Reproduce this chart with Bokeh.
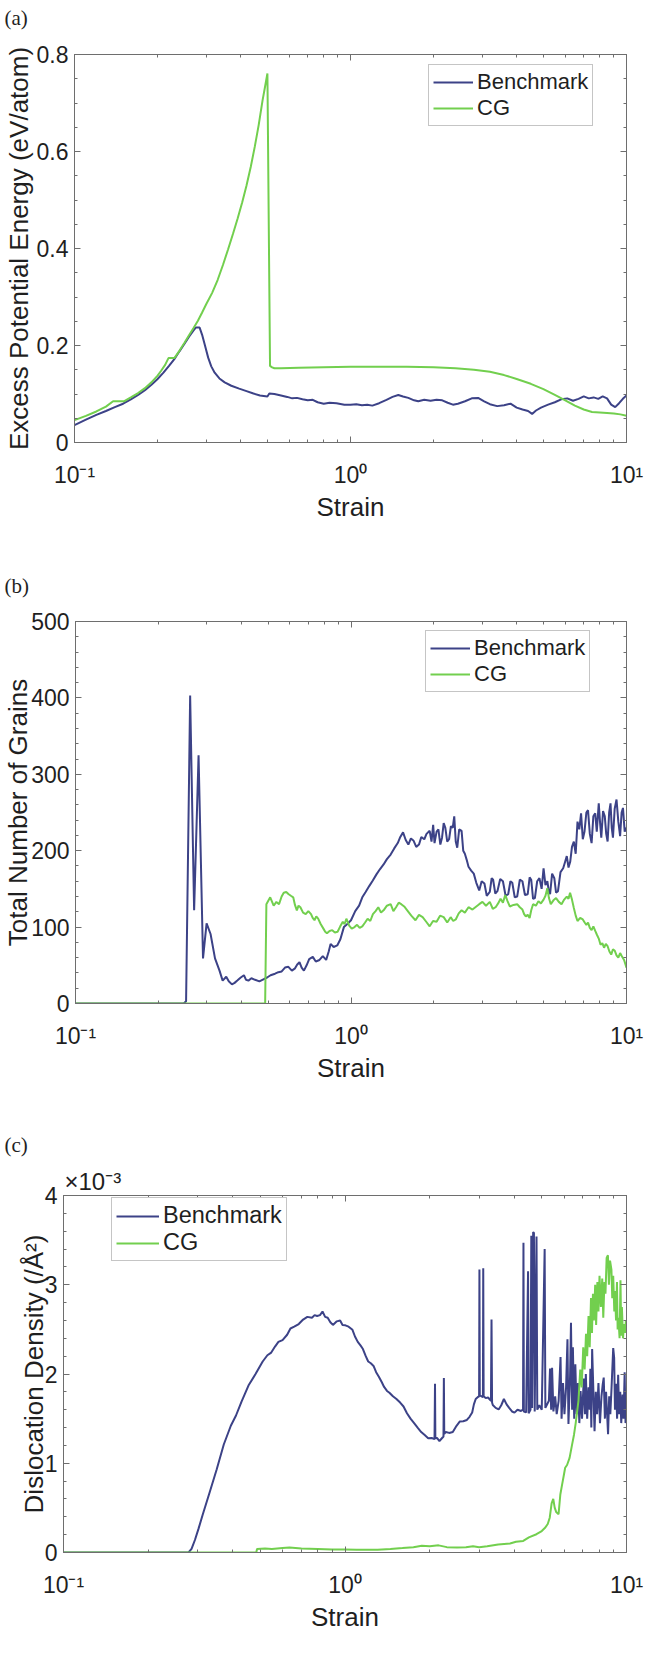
from bokeh.plotting import figure
from bokeh.models import (Range1d, FixedTicker, LogAxis, LinearAxis, Legend, LegendItem,
                          Label, Title, CustomJSTickFormatter)
from bokeh.embed import file_html
from bokeh.resources import INLINE

# ---------------------------------------------------------------- data
# (a) excess potential energy, eV/atom
a_bench_strain = [0.100, 0.110, 0.120, 0.130, 0.140, 0.150, 0.160, 0.170, 0.180, 0.190, 0.200,
                  0.210, 0.220, 0.230, 0.240, 0.250, 0.260, 0.270, 0.275, 0.284, 0.290, 0.297,
                  0.305, 0.313, 0.322, 0.335, 0.350, 0.370, 0.395, 0.420, 0.445, 0.470, 0.500,
                  0.508, 0.530, 0.560, 0.590, 0.615, 0.640, 0.670, 0.700, 0.730, 0.760, 0.800,
                  0.840, 0.890, 0.950, 1.00, 1.05, 1.10, 1.15, 1.20, 1.27, 1.35, 1.42, 1.49,
                  1.55, 1.62, 1.70, 1.76, 1.85, 1.95, 2.05, 2.15, 2.25, 2.35, 2.45, 2.60, 2.75,
                  2.90, 3.05, 3.20, 3.40, 3.60, 3.80, 4.00, 4.20, 4.40, 4.55, 4.70, 4.90, 5.20,
                  5.50, 5.80, 6.10, 6.40, 6.70, 7.00, 7.30, 7.60, 7.90, 8.20, 8.50, 8.80, 9.10,
                  9.40, 9.70, 10.0]
a_bench_energy = [0.036, 0.047, 0.057, 0.065, 0.073, 0.080, 0.089, 0.098, 0.108, 0.119, 0.131,
                  0.144, 0.158, 0.172, 0.188, 0.203, 0.218, 0.231, 0.237, 0.237, 0.222, 0.200,
                  0.175, 0.157, 0.144, 0.132, 0.124, 0.117, 0.111, 0.106, 0.101, 0.097, 0.095,
                  0.101, 0.100, 0.097, 0.094, 0.091, 0.092, 0.089, 0.087, 0.088, 0.083, 0.080,
                  0.082, 0.081, 0.078, 0.078, 0.079, 0.077, 0.078, 0.076, 0.081, 0.088, 0.094,
                  0.098, 0.095, 0.092, 0.087, 0.085, 0.088, 0.086, 0.088, 0.087, 0.082, 0.078,
                  0.080, 0.085, 0.091, 0.092, 0.085, 0.079, 0.075, 0.077, 0.080, 0.072, 0.068,
                  0.065, 0.059, 0.066, 0.072, 0.078, 0.083, 0.089, 0.091, 0.086, 0.090, 0.095,
                  0.091, 0.093, 0.090, 0.095, 0.091, 0.078, 0.073, 0.081, 0.090, 0.097]

a_cg_strain = [0.100, 0.110, 0.120, 0.130, 0.138, 0.151, 0.160, 0.170, 0.180, 0.190, 0.200,
               0.206, 0.213, 0.219, 0.230, 0.240, 0.250, 0.260, 0.270, 0.280, 0.290, 0.300,
               0.315, 0.330, 0.345, 0.360, 0.375, 0.390, 0.405, 0.420, 0.435, 0.450, 0.465,
               0.480, 0.490, 0.500, 0.511, 0.520, 0.530, 0.560, 0.650, 0.800, 1.00, 1.30,
               1.60, 2.00, 2.40, 2.80, 3.20, 3.60, 4.00, 4.50, 5.00, 5.50, 6.00, 6.50, 7.00,
               7.50, 8.00, 8.50, 9.00, 9.50, 10.0]
a_cg_energy = [0.046, 0.055, 0.064, 0.074, 0.085, 0.085, 0.093, 0.102, 0.112, 0.124, 0.138,
               0.148, 0.160, 0.174, 0.174, 0.189, 0.205, 0.221, 0.236, 0.251, 0.268, 0.285,
               0.308, 0.335, 0.366, 0.398, 0.430, 0.462, 0.495, 0.530, 0.568, 0.610, 0.655,
               0.705, 0.733, 0.761, 0.158, 0.155, 0.153, 0.153, 0.154, 0.155, 0.156, 0.156,
               0.156, 0.155, 0.153, 0.150, 0.146, 0.139, 0.131, 0.121, 0.110, 0.098, 0.087,
               0.076, 0.068, 0.063, 0.062, 0.061, 0.060, 0.058, 0.055]

# (b) total number of grains
b_bench_strain = [0.100, 0.247, 0.252, 0.2607, 0.2695, 0.2797, 0.2903, 0.2991, 0.3092, 0.3209,
                  0.3332, 0.3421, 0.3524, 0.3600, 0.3697, 0.3780, 0.3866, 0.3980, 0.4087, 0.4160,
                  0.4242, 0.4350, 0.4485, 0.4650, 0.4829, 0.4960, 0.5106, 0.5300, 0.5450, 0.5603,
                  0.5760, 0.5925, 0.6100, 0.6264, 0.6380, 0.6501, 0.6620, 0.6746, 0.6900, 0.7050,
                  0.7267, 0.7450, 0.7685, 0.7900, 0.8126, 0.8300, 0.8432, 0.8650, 0.8913, 0.9150,
                  0.9423, 0.9700, 1.000, 1.036, 1.070, 1.099, 1.130, 1.166, 1.200, 1.237, 1.275,
                  1.313, 1.350, 1.393, 1.435, 1.478, 1.510, 1.545, 1.580, 1.615, 1.650, 1.688,
                  1.725, 1.765, 1.800, 1.845, 1.880, 1.930, 1.960, 1.987, 2.010, 2.045, 2.076,
                  2.110, 2.140, 2.170, 2.200, 2.235, 2.270, 2.305, 2.340, 2.370, 2.400, 2.430,
                  2.470, 2.520, 2.555, 2.590, 2.630, 2.670, 2.730, 2.790, 2.850, 2.920, 2.980,
                  3.050, 3.110, 3.190, 3.240, 3.280, 3.340, 3.400, 3.480, 3.560, 3.640, 3.720,
                  3.790, 3.850, 3.930, 4.010, 4.100, 4.190, 4.280, 4.380, 4.450, 4.510, 4.580,
                  4.650, 4.740, 4.830, 4.920, 5.000, 5.080, 5.160, 5.220, 5.280, 5.370, 5.470,
                  5.550, 5.640, 5.760, 5.890, 5.980, 6.070, 6.160, 6.250, 6.340, 6.440, 6.540,
                  6.640, 6.740, 6.840, 6.940, 7.040, 7.150, 7.250, 7.360, 7.470, 7.580, 7.700,
                  7.800, 7.930, 8.020, 8.100, 8.220, 8.340, 8.440, 8.540, 8.650, 8.750, 8.840,
                  8.930, 9.060, 9.200, 9.340, 9.480, 9.600, 9.710, 9.850, 10.00]
b_bench_grains = [0, 0, 3, 403, 122, 325, 59, 105, 91, 59,
                  43, 30, 35, 29, 25, 27, 30, 34, 37, 31,
                  30, 33, 31, 29, 32, 34, 37, 39, 41, 42,
                  47, 48, 43, 46, 51, 54, 47, 43, 50, 58,
                  61, 55, 57, 62, 57, 68, 78, 74, 76, 84,
                  100, 104, 109, 121, 128, 139, 146, 154, 161, 169, 176,
                  182, 189, 195, 203, 210, 218, 224, 214, 208, 216, 213,
                  205, 208, 218, 215, 222, 226, 212, 234, 210, 225, 228,
                  208, 217, 236, 230, 212, 215, 232, 230, 245, 212, 204,
                  228, 226, 200, 196, 188, 179, 174, 170, 158, 148, 160,
                  157, 141, 146, 164, 162, 144, 147, 163, 160, 141, 143,
                  160, 158, 139, 140, 162, 160, 142, 143, 165, 162, 137,
                  138, 160, 164, 150, 177, 155, 160, 148, 143, 170, 164,
                  145, 147, 172, 177, 185, 193, 178, 186, 205, 212, 196,
                  238, 228, 249, 215, 225, 250, 253, 222, 210, 245, 249,
                  225, 262, 236, 217, 252, 245, 222, 212, 250, 262, 230,
                  217, 255, 267, 238, 219, 250, 256, 225, 230]

b_cg_strain = [0.100, 0.488, 0.493, 0.509, 0.524, 0.536, 0.548, 0.560, 0.570, 0.582, 0.594,
               0.605, 0.617, 0.626, 0.636, 0.645, 0.655, 0.670, 0.685, 0.700, 0.716, 0.726,
               0.737, 0.748, 0.760, 0.776, 0.794, 0.806, 0.818, 0.836, 0.855, 0.874, 0.894,
               0.914, 0.934, 0.948, 0.962, 0.985, 1.006, 1.030, 1.052, 1.075, 1.099, 1.125,
               1.149, 1.175, 1.201, 1.228, 1.256, 1.285, 1.313, 1.350, 1.393, 1.425, 1.457,
               1.490, 1.522, 1.560, 1.600, 1.655, 1.714, 1.765, 1.820, 1.875, 1.930, 1.985,
               2.045, 2.105, 2.170, 2.235, 2.300, 2.350, 2.400, 2.460, 2.520, 2.590, 2.670,
               2.760, 2.850, 2.920, 3.000, 3.090, 3.190, 3.270, 3.350, 3.420, 3.490, 3.560,
               3.630, 3.700, 3.770, 3.890, 4.010, 4.100, 4.190, 4.250, 4.310, 4.380, 4.450,
               4.510, 4.580, 4.690, 4.790, 4.890, 5.000, 5.080, 5.160, 5.230, 5.310, 5.430,
               5.550, 5.680, 5.810, 5.940, 6.070, 6.160, 6.240, 6.340, 6.440, 6.540, 6.640,
               6.790, 6.940, 7.050, 7.150, 7.250, 7.360, 7.470, 7.580, 7.700, 7.810, 7.930,
               8.050, 8.170, 8.290, 8.410, 8.540, 8.670, 8.800, 8.930, 9.070, 9.200, 9.340,
               9.480, 9.620, 9.800, 10.00]
b_cg_grains = [0, 0, 130, 139, 128, 133, 130, 140, 145, 146, 143,
               141, 139, 129, 122, 128, 126, 119, 117, 121, 117, 112,
               109, 114, 111, 104, 98, 94, 92, 95, 96, 93, 94,
               101, 107, 104, 111, 102, 98, 100, 103, 99, 101, 106,
               111, 108, 117, 121, 126, 119, 122, 128, 130, 121, 126,
               132, 130, 127, 122, 115, 109, 116, 113, 107, 101, 108,
               107, 115, 113, 106, 113, 108, 110, 118, 122, 119, 126,
               123, 127, 130, 133, 128, 133, 124, 126, 131, 137, 132,
               142, 134, 127, 129, 130, 126, 123, 117, 114, 116, 112,
               122, 130, 128, 134, 131, 136, 141, 151, 138, 130, 135,
               138, 133, 130, 136, 140, 137, 145, 136, 125, 115, 108,
               112, 110, 106, 103, 106, 99, 96, 101, 95, 90, 85,
               77, 79, 73, 78, 75, 68, 64, 71, 69, 63, 60,
               66, 62, 57, 47]

# (c) dislocation density, in units of 1e-3 per square angstrom
c_bench_strain = [0.100, 0.278, 0.285, 0.293, 0.302, 0.312, 0.331, 0.350, 0.371, 0.393, 0.410,
                  0.429, 0.454, 0.481, 0.510, 0.530, 0.547, 0.565, 0.580, 0.600, 0.623, 0.640,
                  0.660, 0.685, 0.710, 0.735, 0.763, 0.780, 0.796, 0.815, 0.832, 0.850, 0.868,
                  0.887, 0.906, 0.935, 0.961, 0.980, 1.003, 1.030, 1.063, 1.085, 1.110, 1.135,
                  1.158, 1.185, 1.209, 1.235, 1.263, 1.290, 1.319, 1.350, 1.377, 1.410, 1.438,
                  1.480, 1.523, 1.570, 1.614, 1.660, 1.709, 1.760, 1.811, 1.865, 1.919, 1.975,
                  2.032, 2.080, 2.088, 2.094, 2.122, 2.165, 2.238, 2.245, 2.252, 2.280, 2.345,
                  2.415, 2.490, 2.559, 2.630, 2.710, 2.770, 2.830, 2.870, 2.913, 2.960, 2.995,
                  3.003, 3.012, 3.090, 3.098, 3.108, 3.160, 3.222, 3.300, 3.315, 3.330, 3.350,
                  3.430, 3.514, 3.590, 3.668, 3.750, 3.830, 3.920, 4.000, 4.100, 4.220, 4.290,
                  4.305, 4.320, 4.400, 4.470, 4.490, 4.560, 4.590, 4.620, 4.660, 4.690, 4.720,
                  4.790, 4.820, 4.900, 5.000, 5.120, 5.150, 5.300, 5.350, 5.400, 5.440, 5.500,
                  5.580, 5.650, 5.740, 5.830, 5.880, 5.950, 6.020, 6.100, 6.170, 6.220, 6.300,
                  6.350, 6.410, 6.450, 6.520, 6.580, 6.650, 6.720, 6.800, 6.870, 6.950, 7.050,
                  7.120, 7.170, 7.250, 7.330, 7.400, 7.440, 7.500, 7.550, 7.620, 7.700, 7.780,
                  7.860, 7.950, 8.050, 8.150, 8.230, 8.300, 8.380, 8.460, 8.600, 8.680, 8.760,
                  8.850, 8.970, 9.040, 9.100, 9.180, 9.260, 9.340, 9.420, 9.500, 9.580, 9.680,
                  9.760, 9.850, 9.920, 10.00]
c_bench_density = [0, 0, 0.04, 0.14, 0.27, 0.42, 0.68, 0.93, 1.21, 1.42, 1.535,
                   1.69, 1.87, 2.00, 2.14, 2.21, 2.24, 2.31, 2.36, 2.38, 2.44, 2.51,
                   2.53, 2.56, 2.61, 2.64, 2.63, 2.66, 2.65, 2.66, 2.70, 2.64, 2.63,
                   2.58, 2.55, 2.59, 2.60, 2.55, 2.545, 2.53, 2.495, 2.42, 2.36, 2.32,
                   2.28, 2.20, 2.14, 2.12, 2.09, 2.02, 1.97, 1.91, 1.855, 1.81, 1.79,
                   1.75, 1.72, 1.68, 1.636, 1.56, 1.50, 1.45, 1.40, 1.35, 1.316, 1.28,
                   1.283, 1.27, 1.89, 1.28, 1.283, 1.249, 1.30, 1.956, 1.33, 1.35, 1.34,
                   1.35, 1.42, 1.468, 1.47, 1.485, 1.52, 1.569, 1.66, 1.72, 1.74, 1.75,
                   3.17, 1.76, 1.74, 3.185, 1.75, 1.73, 1.737, 1.70, 2.61, 1.68, 1.653,
                   1.62, 1.603, 1.65, 1.72, 1.66, 1.62, 1.58, 1.567, 1.60, 1.586, 1.60,
                   3.47, 1.58, 1.57, 3.15, 1.56, 1.60, 3.55, 1.62, 3.59, 3.58, 1.58,
                   3.54, 1.60, 1.65, 1.60, 3.40, 1.62, 1.70, 2.06, 1.60, 2.07, 1.58,
                   1.75, 1.55, 1.70, 2.19, 1.50, 1.90, 1.55, 1.85, 2.39, 1.44, 1.95,
                   2.575, 1.60, 2.30, 1.50, 2.11, 1.55, 1.90, 1.45, 1.81, 1.50, 1.95,
                   1.55, 2.00, 1.50, 1.85, 1.60, 2.06, 1.40, 2.28, 1.85, 1.36, 1.80,
                   1.55, 1.90, 1.45, 1.75, 1.88, 1.96, 1.50, 1.80, 1.325, 1.75, 1.55,
                   1.85, 2.29, 2.18, 1.60, 1.89, 1.50, 1.99, 1.55, 1.80, 1.45, 1.77,
                   1.50, 2.02, 1.45, 1.51]

c_cg_strain = [0.100, 0.484, 0.487, 0.520, 0.550, 0.600, 0.635, 0.700, 0.800, 0.900, 1.000,
               1.100, 1.200, 1.306, 1.450, 1.600, 1.750, 1.874, 2.000, 2.150, 2.300, 2.500,
               2.689, 2.850, 2.996, 3.200, 3.500, 3.857, 4.050, 4.297, 4.500, 4.788, 5.000,
               5.148, 5.250, 5.337, 5.420, 5.493, 5.560, 5.634, 5.737, 5.820, 5.905, 6.000,
               6.055, 6.150, 6.278, 6.400, 6.509, 6.600, 6.750, 6.850, 6.930, 7.020, 7.100,
               7.180, 7.250, 7.330, 7.400, 7.480, 7.540, 7.600, 7.660, 7.740, 7.800, 7.880,
               7.950, 8.020, 8.110, 8.200, 8.270, 8.350, 8.420, 8.500, 8.590, 8.660, 8.740,
               8.840, 8.900, 8.970, 9.050, 9.100, 9.180, 9.250, 9.300, 9.360, 9.450, 9.520,
               9.580, 9.630, 9.720, 9.800, 9.880, 9.950, 10.00]
c_cg_density = [0, 0, 0.04, 0.045, 0.04, 0.05, 0.056, 0.045, 0.04, 0.035, 0.035,
                0.03, 0.03, 0.03, 0.04, 0.05, 0.06, 0.075, 0.07, 0.08, 0.06, 0.055,
                0.06, 0.07, 0.06, 0.07, 0.09, 0.10, 0.12, 0.13, 0.17, 0.205, 0.24,
                0.28, 0.32, 0.39, 0.55, 0.60, 0.50, 0.45, 0.43, 0.65, 0.76, 0.88,
                0.95, 0.98, 1.06, 1.20, 1.32, 1.45, 1.70, 2.05, 1.85, 2.30, 2.05,
                2.45, 2.20, 2.65, 2.30, 2.85, 2.46, 2.90, 2.60, 3.00, 2.55, 3.03,
                2.70, 3.10, 2.75, 3.07, 2.63, 3.03, 2.90, 3.30, 3.33, 3.00, 3.27,
                3.17, 2.85, 3.10, 2.70, 2.93, 2.60, 3.03, 2.50, 2.63, 2.40, 3.05,
                2.43, 2.75, 2.40, 2.56, 2.46, 2.60, 2.52]

x_major = [0.1, 1, 10]
x_minor = [0.2, 0.3, 0.4, 0.5, 0.6, 0.7, 0.8, 0.9, 2, 3, 4, 5, 6, 7, 8, 9]

# ---------------------------------------------------------------- style
NAVY = "#3c4287"
GREEN = "#72cf4e"
AXIS = "#6e6e6e"
INK = "#1f1f1f"
SANS = "Liberation Sans"
SERIF = "Liberation Serif"
W = 654

X_FMT = CustomJSTickFormatter(code="""
const e = Math.round(Math.log10(tick));
const sup = {"-1": "\\u207b\\u00b9", "0": "\\u2070", "1": "\\u00b9"};
return "10" + sup[String(e)];
""")
Y_FMT = CustomJSTickFormatter(code="return tick.toString();")
BLANK_FMT = CustomJSTickFormatter(code="return '';")


def style_axis(ax, show_labels):
    ax.axis_line_color = AXIS
    ax.axis_line_width = 1
    ax.major_tick_line_color = AXIS
    ax.minor_tick_line_color = AXIS
    ax.major_tick_in = 6
    ax.major_tick_out = 0
    ax.minor_tick_in = 3
    ax.minor_tick_out = 0
    if show_labels:
        ax.major_label_text_font = SANS
        ax.major_label_text_font_size = "23px"
        ax.major_label_text_color = INK
        ax.axis_label_text_font = SANS
        ax.axis_label_text_font_size = "26px"
        ax.axis_label_text_font_style = "normal"
        ax.axis_label_text_color = INK
    else:
        ax.formatter = BLANK_FMT
        ax.major_label_text_font_size = "1px"
        ax.major_label_standoff = 0


def header(height, texts):
    """A strip whose whole canvas is the frame, in pixel coordinates (y downwards)."""
    h = figure(width=W, height=height, x_range=Range1d(0, W), y_range=Range1d(height, 0),
               x_axis_type=None, y_axis_type=None, title=None,
               output_backend="svg", toolbar_location=None,
               min_border_left=0, min_border_right=0, min_border_top=0, min_border_bottom=0)
    h.outline_line_color = None
    h.xgrid.visible = False
    h.ygrid.visible = False
    h.background_fill_color = "white"
    h.border_fill_color = "white"
    for text, x, y, font, size, baseline in texts:
        h.add_layout(Label(x=x, y=y, text=text, text_font=font, text_font_size=size,
                           text_color=INK, text_baseline=baseline))
    return h


def panel(height, left, top, bottom, y_max, y_major, y_minor, y_label, y_label_gap,
          bench_x, bench_y, cg_x, cg_y, legend_left, legend_bottom, legend_font, legend_glyph):
    p = figure(width=W, height=height, x_axis_type="log", title=None,
               x_range=Range1d(0.1, 10), y_range=Range1d(0, y_max),
               output_backend="svg", toolbar_location=None,
               min_border_left=left, min_border_right=28,
               min_border_top=top, min_border_bottom=bottom)
    p.xgrid.visible = False
    p.ygrid.visible = False
    p.outline_line_color = AXIS
    p.outline_line_width = 1
    p.background_fill_color = "white"
    p.border_fill_color = "white"

    xa = p.xaxis[0]
    xa.ticker = FixedTicker(ticks=x_major, minor_ticks=x_minor)
    xa.formatter = X_FMT
    xa.axis_label = "Strain"
    style_axis(xa, True)
    xa.major_label_standoff = 19
    xa.axis_label_standoff = 1

    ya = p.yaxis[0]
    ya.ticker = FixedTicker(ticks=y_major, minor_ticks=y_minor)
    ya.formatter = Y_FMT
    ya.axis_label = y_label
    style_axis(ya, True)
    ya.major_label_standoff = 6
    ya.axis_label_standoff = y_label_gap

    # mirrored tick marks on the top and right edges of the box
    top_ax = LogAxis(ticker=FixedTicker(ticks=x_major, minor_ticks=x_minor))
    style_axis(top_ax, False)
    p.add_layout(top_ax, "above")
    right_ax = LinearAxis(ticker=FixedTicker(ticks=y_major, minor_ticks=y_minor))
    style_axis(right_ax, False)
    p.add_layout(right_ax, "right")

    r_bench = p.line(bench_x, bench_y, line_color=NAVY, line_width=2)
    r_cg = p.line(cg_x, cg_y, line_color=GREEN, line_width=2)

    legend = Legend(items=[LegendItem(label="Benchmark", renderers=[r_bench]),
                           LegendItem(label="CG", renderers=[r_cg])],
                    location=(legend_left, legend_bottom))
    legend.label_text_font = SANS
    legend.label_text_font_size = legend_font
    legend.label_text_color = INK
    legend.glyph_width = legend_glyph
    legend.glyph_height = 26
    legend.label_height = 26
    legend.label_standoff = 4
    legend.padding = 4
    legend.spacing = 0
    legend.margin = 0
    legend.border_line_color = "#8c8c8c"
    legend.border_line_width = 1
    legend.background_fill_color = "white"
    legend.background_fill_alpha = 1
    p.add_layout(legend)
    return p


head_a = header(36, [("(a)", 4, 5, SERIF, "21px", "top")])
pa = panel(524, 71, 18, 118, 0.8, [0, 0.2, 0.4, 0.6, 0.8],
           [0.05, 0.1, 0.15, 0.25, 0.3, 0.35, 0.45, 0.5, 0.55, 0.65, 0.7, 0.75],
           "Excess Potential Energy (eV/atom)", 0,
           a_bench_strain, a_bench_energy, a_cg_strain, a_cg_energy,
           354, 316, "22px", 40)

head_b = header(42, [("(b)", 4, 13, SERIF, "21px", "top")])
pb = panel(498, 75, 19, 97, 500, [0, 100, 200, 300, 400, 500],
           [20, 40, 60, 80, 120, 140, 160, 180, 220, 240, 260, 280,
            320, 340, 360, 380, 420, 440, 460, 480],
           "Total Number of Grains", -5,
           b_bench_strain, b_bench_grains, b_cg_strain, b_cg_grains,
           350, 311, "22px", 40)

head_c = header(64, [("(c)", 4, 32, SERIF, "21px", "top")])
pc = panel(515, 63, 30, 127, 4, [0, 1, 2, 3, 4],
           [0.2, 0.4, 0.6, 0.8, 1.2, 1.4, 1.6, 1.8, 2.2, 2.4, 2.6, 2.8,
            3.2, 3.4, 3.6, 3.8],
           "Dislocation Density (/\u00c5\u00b2)", -7,
           c_bench_strain, c_bench_density, c_cg_strain, c_cg_density,
           48, 291, "23.5px", 43)

# exponent multiplier of the density axis, just above the frame
pc.add_layout(Title(text="\u00d710\u207b\u00b3", align="left", offset=1, standoff=2,
                    text_font=SANS, text_font_size="24px", text_font_style="normal",
                    text_color=INK), "above")

open("out.html", "w", encoding="utf-8").write(
    file_html([head_a, pa, head_b, pb, head_c, pc], INLINE))
